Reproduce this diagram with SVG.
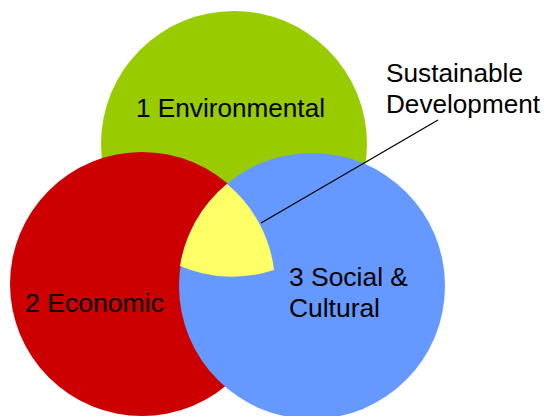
<svg xmlns="http://www.w3.org/2000/svg" width="544" height="416" viewBox="0 0 544 416">
<style>
text{font-family:"Liberation Sans",Arial,sans-serif;font-size:25px;fill:#000}
.lead{stroke:#000;stroke-width:1.3;fill:none}
</style>
<rect width="544" height="416" fill="#fff"/>
<g id="environmental">
<circle cx="234" cy="144" r="133" fill="#99CC00"/>
</g>
<g id="economic">
<circle cx="142" cy="284" r="132" fill="#CC0000"/>
</g>
<g id="social">
<circle cx="312" cy="286" r="133" fill="#6699FF"/>
</g>
<g id="sustainable">
<path d="M227,184 A133,133 0 0 0 180,266 A133,133 0 0 0 274,270 A132,132 0 0 0 227,184 Z" fill="#FFFF66"/>
</g>
<g id="connectors">
<line class="lead" x1="261" y1="223" x2="438" y2="120"/>
</g>
<g id="labels">
<text x="136" y="117" textLength="189" lengthAdjust="spacingAndGlyphs">1 Environmental</text>
<text x="25" y="312" textLength="139" lengthAdjust="spacingAndGlyphs">2 Economic</text>
<text x="289" y="286" textLength="119" lengthAdjust="spacingAndGlyphs">3 Social &amp;</text>
<text x="289" y="317" textLength="91" lengthAdjust="spacingAndGlyphs">Cultural</text>
<text x="386" y="82" textLength="137" lengthAdjust="spacingAndGlyphs">Sustainable</text>
<text x="386" y="113" textLength="154" lengthAdjust="spacingAndGlyphs">Development</text>
</g>
</svg>
